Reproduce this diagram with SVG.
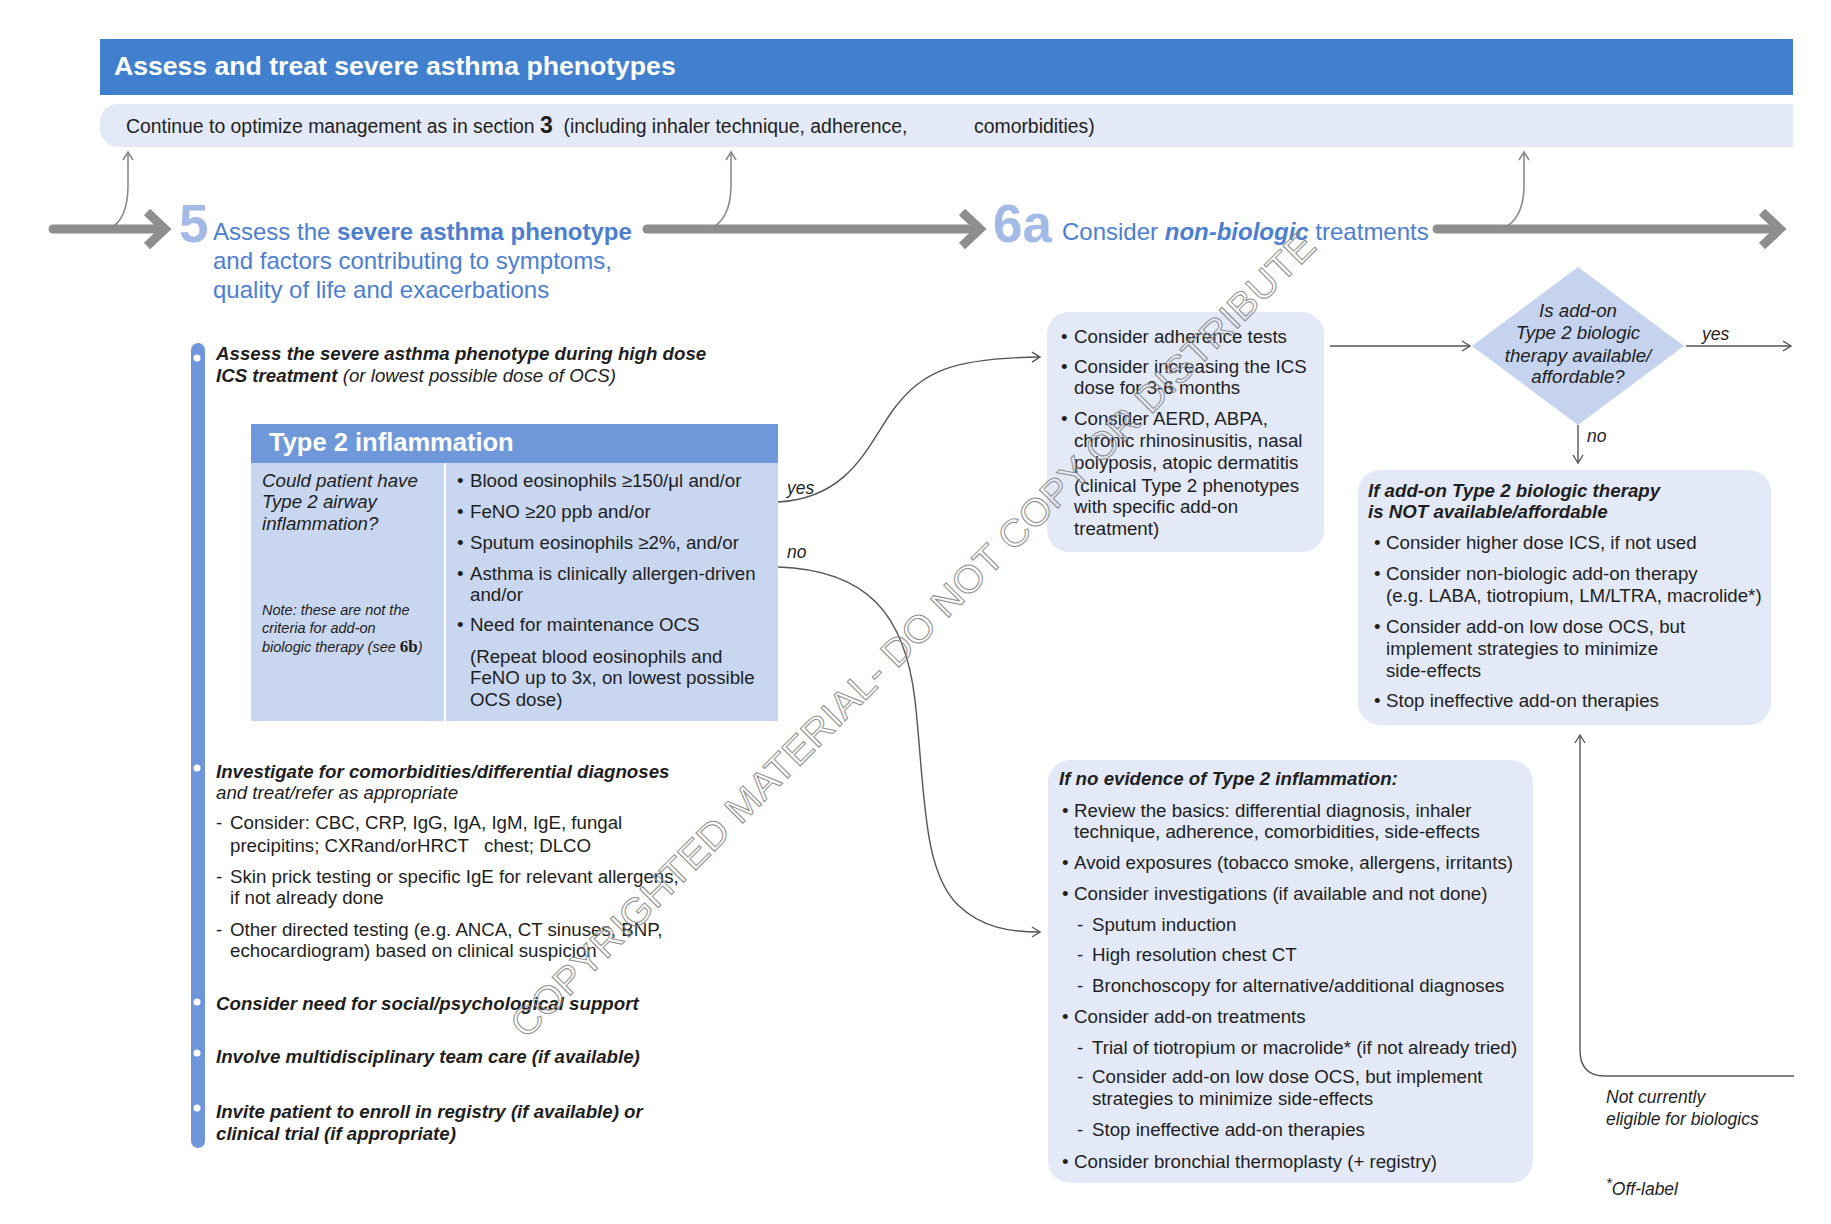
<svg xmlns="http://www.w3.org/2000/svg" width="1831" height="1224" viewBox="0 0 1831 1224">
<defs>
<style>
text{font-family:"Liberation Sans",Arial,sans-serif;fill:#1e1e1e;font-size:18.7px}
.it{font-style:italic}
.bi{font-style:italic;font-weight:bold}
.b{font-weight:bold}
.big{font-size:24px;fill:#4C7ED0}
.num{font-size:53px;font-weight:bold;fill:#A3B9E6}
.note{font-size:14.5px;font-style:italic}
.lbl{font-size:17.5px;font-style:italic}
.box{fill:#E3E9F6}
.thick{fill:none;stroke:#8E8E8E;stroke-width:9}
.thin{fill:none;stroke:#8A8A8A;stroke-width:1.6}
.conn{fill:none;stroke:#555;stroke-width:1.4}
</style>
<marker id="ah" markerWidth="12" markerHeight="12" refX="9" refY="6" orient="auto" markerUnits="userSpaceOnUse">
<path d="M1,1 L9,6 L1,11" fill="none" stroke="#555" stroke-width="1.4"/>
</marker>
<marker id="ahg" markerWidth="12" markerHeight="12" refX="9" refY="6" orient="auto" markerUnits="userSpaceOnUse">
<path d="M1,1 L9,6 L1,11" fill="none" stroke="#8A8A8A" stroke-width="1.6"/>
</marker>
</defs>
<rect width="1831" height="1224" fill="#fff"/>

<g id="title">
<rect x="100" y="39" width="1693" height="56" fill="#4080CF"/>
<text x="114" y="75" class="b" style="font-size:26.6px;fill:#fff">Assess and treat severe asthma phenotypes</text>
</g>

<g id="continue-bar">
<path d="M118,104 H1793 V147 H118 A18,18 0 0 1 100,129 V122 A18,18 0 0 1 118,104 Z" class="box"/>
<text x="126" y="133" style="font-size:19.4px" xml:space="preserve">Continue to optimize management as in section <tspan class="b" style="font-size:23px">3</tspan>  (including inhaler technique, adherence,</text>
<text x="974" y="133" style="font-size:19.4px">comorbidities)</text>
</g>

<g id="connectors">
<path d="M53,229 H160" class="thick" stroke-linecap="round"/>
<polyline points="147,212 165,229 147,246" class="thick" stroke-linejoin="miter"/>
<path d="M647,229 H976" class="thick" stroke-linecap="round"/>
<polyline points="962,212 980,229 962,246" class="thick"/>
<path d="M1437,229 H1776" class="thick" stroke-linecap="round"/>
<polyline points="1762,212 1780,229 1762,246" class="thick"/>
<path d="M109,229 C124,222 128,205 128,185 V152" class="thin" marker-end="url(#ahg)"/>
<path d="M710,229 C725,222 731,205 731,185 V152" class="thin" marker-end="url(#ahg)"/>
<path d="M1502,229 C1518,222 1524,205 1524,185 V152" class="thin" marker-end="url(#ahg)"/>
<path d="M778,502 C850,498 868,445 893,410 C922,372 950,358 1040,357" class="conn" marker-end="url(#ah)"/>
<path d="M778,567 C868,570 905,615 915,700 C925,790 922,870 958,905 C982,928 1010,932 1040,932" class="conn" marker-end="url(#ah)"/>
<path d="M1330,346 H1470" class="conn" marker-end="url(#ah)"/>
<path d="M1686,346 H1791" class="conn" marker-end="url(#ah)"/>
<path d="M1578,425 V463" class="conn" marker-end="url(#ah)"/>
<path d="M1794,1076 H1605 Q1580,1076 1580,1050 V735" class="conn" stroke="#777" marker-end="url(#ah)"/>
<text x="787" y="494" class="lbl">yes</text>
<text x="787" y="558" class="lbl">no</text>
<text x="1702" y="340" class="lbl">yes</text>
<text x="1587" y="442" class="lbl">no</text>
</g>

<g id="step5">
<text x="179" y="242" class="num">5</text>
<text x="213" y="240" class="big">Assess the <tspan class="b">severe asthma phenotype</tspan></text>
<text x="213" y="269" class="big">and factors contributing to symptoms,</text>
<text x="213" y="298" class="big">quality of life and exacerbations</text>
</g>

<g id="step6a">
<text x="993" y="242" class="num">6a</text>
<text x="1062" y="240" class="big">Consider <tspan class="bi">non-biologic</tspan> treatments</text>
</g>

<g id="left-bar">
<rect x="191" y="343" width="14" height="805" rx="7" fill="#6F96DA"/>
<circle cx="197" cy="358" r="3.5" fill="#fff"/>
<circle cx="197" cy="768" r="3.5" fill="#fff"/>
<circle cx="197" cy="1002" r="3.5" fill="#fff"/>
<circle cx="197" cy="1053" r="3.5" fill="#fff"/>
<circle cx="197" cy="1108" r="3.5" fill="#fff"/>
</g>

<g id="assess-phenotype">
<text x="216" y="360" class="bi">Assess the severe asthma phenotype during high dose</text>
<text x="216" y="382" class="it"><tspan class="b">ICS treatment</tspan> (or lowest possible dose of OCS)</text>
</g>

<g id="type2-box">
<rect x="251" y="424" width="527" height="39" fill="#6F98DA"/>
<rect x="251" y="463" width="527" height="258" fill="#C8D6F0"/>
<line x1="445" y1="463" x2="445" y2="721" stroke="#fff" stroke-width="2"/>
<text x="269" y="451" class="b" style="font-size:25.5px;fill:#fff">Type 2 inflammation</text>
<text x="262" y="487" class="it">Could patient have</text>
<text x="262" y="508" class="it">Type 2 airway</text>
<text x="262" y="530" class="it">inflammation?</text>
<text x="262" y="615" class="note">Note: these are not the</text>
<text x="262" y="633" class="note">criteria for add-on</text>
<text x="262" y="652" class="note">biologic therapy (see <tspan style="font-family:'Liberation Serif',serif;font-weight:bold;font-style:normal;font-size:17px">6b</tspan>)</text>
<text x="457" y="487">•</text><text x="470" y="487">Blood eosinophils ≥150/μl and/or</text>
<text x="457" y="518">•</text><text x="470" y="518">FeNO ≥20 ppb and/or</text>
<text x="457" y="549">•</text><text x="470" y="549">Sputum eosinophils ≥2%, and/or</text>
<text x="457" y="580">•</text><text x="470" y="580">Asthma is clinically allergen-driven</text>
<text x="470" y="601">and/or</text>
<text x="457" y="631">•</text><text x="470" y="631">Need for maintenance OCS</text>
<text x="470" y="663">(Repeat blood eosinophils and</text>
<text x="470" y="684">FeNO up to 3x, on lowest possible</text>
<text x="470" y="706">OCS dose)</text>
</g>

<g id="investigate">
<text x="216" y="778" class="bi">Investigate for comorbidities/differential diagnoses</text>
<text x="216" y="799" class="it">and treat/refer as appropriate</text>
<text x="216" y="829">-</text><text x="230" y="829">Consider: CBC, CRP, IgG, IgA, IgM, IgE, fungal</text>
<text x="230" y="852" xml:space="preserve">precipitins; CXRand/orHRCT   chest; DLCO</text>
<text x="216" y="883">-</text><text x="230" y="883">Skin prick testing or specific IgE for relevant allergens,</text>
<text x="230" y="904">if not already done</text>
<text x="216" y="936">-</text><text x="230" y="936">Other directed testing (e.g. ANCA, CT sinuses, BNP,</text>
<text x="230" y="957">echocardiogram) based on clinical suspicion</text>
</g>

<g id="social-support"><text x="216" y="1010" class="bi">Consider need for social/psychological support</text></g>
<g id="team-care"><text x="216" y="1063" class="bi">Involve multidisciplinary team care (if available)</text></g>
<g id="registry">
<text x="216" y="1118" class="bi">Invite patient to enroll in registry (if available) or</text>
<text x="216" y="1140" class="bi">clinical trial (if appropriate)</text>
</g>

<g id="adherence-box">
<rect x="1047" y="312" width="277" height="240" rx="22" class="box"/>
<text x="1061" y="343">•</text><text x="1074" y="343">Consider adherence tests</text>
<text x="1061" y="373">•</text><text x="1074" y="373">Consider increasing the ICS</text>
<text x="1074" y="394">dose for 3-6 months</text>
<text x="1061" y="425">•</text><text x="1074" y="425">Consider AERD, ABPA,</text>
<text x="1074" y="447">chronic rhinosinusitis, nasal</text>
<text x="1074" y="469">polyposis, atopic dermatitis</text>
<text x="1074" y="492">(clinical Type 2 phenotypes</text>
<text x="1074" y="513">with specific add-on</text>
<text x="1074" y="535">treatment)</text>
</g>

<g id="decision">
<polygon points="1578,267 1684,346 1578,425 1472,346" fill="#C5D3EE"/>
<text x="1578" y="317" class="it" text-anchor="middle">Is add-on</text>
<text x="1578" y="339" class="it" text-anchor="middle">Type 2 biologic</text>
<text x="1578" y="362" class="it" text-anchor="middle">therapy available/</text>
<text x="1578" y="383" class="it" text-anchor="middle">affordable?</text>
</g>

<g id="not-available-box">
<rect x="1358" y="470" width="413" height="255" rx="22" class="box"/>
<text x="1368" y="497" class="bi">If add-on Type 2 biologic therapy</text>
<text x="1368" y="518" class="bi">is NOT available/affordable</text>
<text x="1374" y="549">•</text><text x="1386" y="549">Consider higher dose ICS, if not used</text>
<text x="1374" y="580">•</text><text x="1386" y="580">Consider non-biologic add-on therapy</text>
<text x="1386" y="602">(e.g. LABA, tiotropium, LM/LTRA, macrolide*)</text>
<text x="1374" y="633">•</text><text x="1386" y="633">Consider add-on low dose OCS, but</text>
<text x="1386" y="655">implement strategies to minimize</text>
<text x="1386" y="677">side-effects</text>
<text x="1374" y="707">•</text><text x="1386" y="707">Stop ineffective add-on therapies</text>
</g>

<g id="no-type2-box">
<rect x="1048" y="760" width="485" height="423" rx="22" class="box"/>
<text x="1059" y="785" class="bi">If no evidence of Type 2 inflammation:</text>
<text x="1062" y="817">•</text><text x="1074" y="817">Review the basics: differential diagnosis, inhaler</text>
<text x="1074" y="838">technique, adherence, comorbidities, side-effects</text>
<text x="1062" y="869">•</text><text x="1074" y="869">Avoid exposures (tobacco smoke, allergens, irritants)</text>
<text x="1062" y="900">•</text><text x="1074" y="900">Consider investigations (if available and not done)</text>
<text x="1077" y="931">-</text><text x="1092" y="931">Sputum induction</text>
<text x="1077" y="961">-</text><text x="1092" y="961">High resolution chest CT</text>
<text x="1077" y="992">-</text><text x="1092" y="992">Bronchoscopy for alternative/additional diagnoses</text>
<text x="1062" y="1023">•</text><text x="1074" y="1023">Consider add-on treatments</text>
<text x="1077" y="1054">-</text><text x="1092" y="1054">Trial of tiotropium or macrolide* (if not already tried)</text>
<text x="1077" y="1083">-</text><text x="1092" y="1083">Consider add-on low dose OCS, but implement</text>
<text x="1092" y="1105">strategies to minimize side-effects</text>
<text x="1077" y="1136">-</text><text x="1092" y="1136">Stop ineffective add-on therapies</text>
<text x="1062" y="1168">•</text><text x="1074" y="1168">Consider bronchial thermoplasty (+ registry)</text>
</g>

<g id="not-eligible">
<text x="1606" y="1103" class="lbl">Not currently</text>
<text x="1606" y="1125" class="lbl">eligible for biologics</text>
</g>
<g id="footnote">
<text x="1606" y="1195" class="lbl"><tspan dy="-7" font-size="15">*</tspan><tspan dy="7">Off-label</tspan></text>
</g>

<g id="watermark">
<text transform="translate(922,644) rotate(-45)" text-anchor="middle" textLength="1120" lengthAdjust="spacingAndGlyphs" style="font-size:38px;fill:none;stroke:#8f8f8f;stroke-width:1">COPYRIGHTED MATERIAL- DO NOT COPY OR DISTRIBUTE</text>
</g>
</svg>
